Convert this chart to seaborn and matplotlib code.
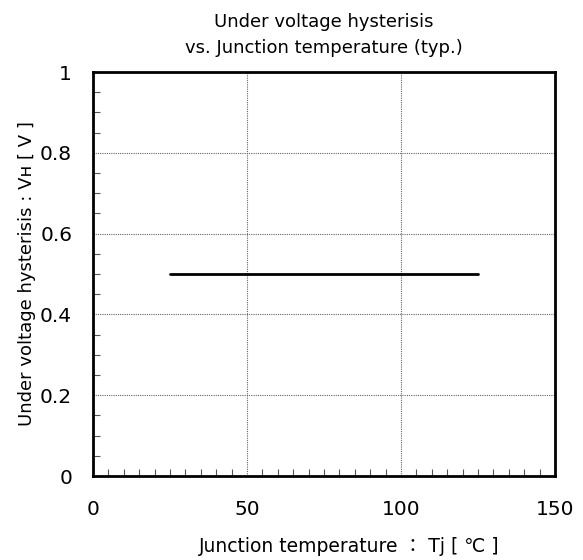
import matplotlib
matplotlib.use("Agg")
import matplotlib.pyplot as plt
from matplotlib.ticker import MultipleLocator
import seaborn as sns
import pandas as pd

temperature = [25, 125]
hysteresis = [0.5, 0.5]
x_ticks = [0, 50, 100, 150]
y_ticks = [0, 0.2, 0.4, 0.6, 0.8, 1]
y_tick_labels = ["0", "0.2", "0.4", "0.6", "0.8", "1"]

sns.set_style("white")
plt.rcParams['font.family'] = ['DejaVu Sans', 'Noto Sans CJK JP']
plt.rcParams['text.color'] = 'black'
plt.rcParams['axes.labelcolor'] = 'black'

df = pd.DataFrame({"Tj": temperature, "VH": hysteresis})

fig = plt.figure(figsize=(5.83, 5.6), dpi=100)
ax = fig.add_axes([0.1595, 0.15, 0.7925, 0.7214])

sns.lineplot(data=df, x="Tj", y="VH", ax=ax, color="black", linewidth=2.0)

ax.set_xlim(0, 150)
ax.set_ylim(0, 1)
ax.set_xticks(x_ticks)
ax.set_xticklabels([str(t) for t in x_ticks], fontsize=14.5)
ax.set_yticks(y_ticks)
ax.set_yticklabels(y_tick_labels, fontsize=14.5)
ax.xaxis.set_minor_locator(MultipleLocator(5))
ax.yaxis.set_minor_locator(MultipleLocator(0.05))
ax.tick_params(which="major", direction="in", length=0, colors="black")
ax.tick_params(axis="x", which="major", pad=17)
ax.tick_params(axis="y", which="major", pad=15)
ax.tick_params(which="minor", direction="in", length=5, width=0.8, color="#555555",
               bottom=True, left=True)

ax.grid(True, which="major", linestyle=(0, (1, 1)), linewidth=0.8, color="#666666")
ax.grid(False, which="minor")

for s in ax.spines.values():
    s.set_linewidth(2)
    s.set_color("black")

ax.set_xlabel("Junction temperature ： Tj [ ℃ ]", fontsize=13.5)
ax.xaxis.set_label_coords(0.555, -0.152)
ax.set_ylabel("Under voltage hysterisis : Vʜ [ V ]", fontsize=13, labelpad=3)
ax.set_title("Under voltage hysterisis\nvs. Junction temperature (typ.)", fontsize=13,
             linespacing=1.55, pad=14, color="black")

fig.savefig("out.png", dpi=100)
